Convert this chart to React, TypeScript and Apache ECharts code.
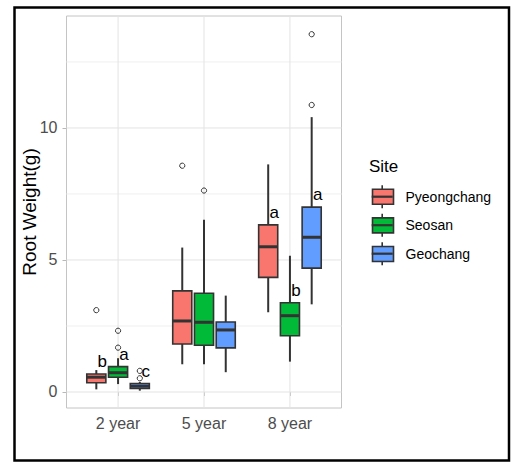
import React, { useEffect, useRef } from "react";
import * as echarts from "echarts";

const years = ["2 year", "5 year", "8 year"];
const sites = ["Pyeongchang", "Seosan", "Geochang"];
const siteColors = ["#F8766D", "#00BA38", "#619CFF"];

// [min, q1, median, q3, max] per year
const pyeongchangBox = [
  [0.1, 0.35, 0.56, 0.68, 0.83],
  [1.05, 1.82, 2.69, 3.83, 5.47],
  [3.02, 4.34, 5.5, 6.33, 8.62],
];
const seosanBox = [
  [0.3, 0.56, 0.73, 0.96, 1.28],
  [1.05, 1.77, 2.64, 3.74, 6.52],
  [1.15, 2.13, 2.89, 3.38, 5.16],
];
const geochangBox = [
  [0.05, 0.13, 0.22, 0.32, 0.38],
  [0.75, 1.67, 2.35, 2.65, 3.65],
  [3.32, 4.69, 5.86, 7.0, 10.41],
];

// [yearIndex, value]
const pyeongchangOutliers = [[0, 3.1], [1, 8.57]];
const seosanOutliers = [[0, 2.32], [0, 1.68], [1, 7.63]];
const geochangOutliers = [[0, 0.52], [0, 0.8], [2, 10.87], [2, 13.55]];

const pyeongchangLetters = ["b", "", "a"];
const seosanLetters = ["a", "", "b"];
const geochangLetters = ["c", "", "a"];

const yTicks = [0, 5, 10];
const yMinorGrid = [2.5, 7.5, 12.5];
const xTicks = [1, 2, 3];

const boxes = [pyeongchangBox, seosanBox, geochangBox];
const outliers = [pyeongchangOutliers, seosanOutliers, geochangOutliers];
const letters = [pyeongchangLetters, seosanLetters, geochangLetters];

const FONT = "'Liberation Sans', Arial, sans-serif";
const DODGE = 0.253;
const BOX_W = 0.222;

export default function App() {
  const ref = useRef<HTMLDivElement>(null);
  useEffect(() => {
    if (!ref.current) return;
    const chart = echarts.init(ref.current, null, { renderer: "svg" });

    const gridData: number[][] = [
      ...yTicks.map((v) => [0, v]),
      ...yMinorGrid.map((v) => [1, v]),
      ...xTicks.map((v) => [2, v]),
    ];

    const gridSeries = {
      type: "custom",
      name: "__grid",
      silent: true,
      z: 1,
      encode: { x: -1, y: -1 },
      data: gridData,
      renderItem: (params: any, api: any) => {
        const kind = api.value(0);
        const v = api.value(1);
        const cs = params.coordSys;
        if (kind === 2) {
          const p = api.coord([v, 0]);
          return {
            type: "line",
            shape: { x1: p[0], y1: cs.y, x2: p[0], y2: cs.y + cs.height },
            style: { stroke: "#e3e3e3", lineWidth: 1 },
          };
        }
        const p = api.coord([1, v]);
        return {
          type: "line",
          shape: { x1: cs.x, y1: p[1], x2: cs.x + cs.width, y2: p[1] },
          style: { stroke: kind === 0 ? "#e3e3e3" : "#efefef", lineWidth: 1 },
        };
      },
    };

    const boxSeries = sites.map((name, s) => ({
      type: "custom",
      name,
      z: 3,
      encode: { x: 0, y: [1, 2, 3, 4, 5] },
      data: boxes[s].map((b, i) => [i, ...b]),
      itemStyle: { color: siteColors[s] },
      renderItem: (params: any, api: any) => {
        const yi = api.value(0);
        const cx = yi + 1 + (s - 1) * DODGE;
        const mn = api.value(1), q1 = api.value(2), md = api.value(3), q3 = api.value(4), mx = api.value(5);
        const pL = api.coord([cx - BOX_W / 2, q1]);
        const pR = api.coord([cx + BOX_W / 2, q3]);
        const pc = api.coord([cx, md]);
        const pMin = api.coord([cx, mn]);
        const pMax = api.coord([cx, mx]);
        const x0 = pL[0], x1 = pR[0];
        const yq1 = pL[1], yq3 = pR[1];
        const children: any[] = [
          { type: "line", shape: { x1: pc[0], y1: pMax[1], x2: pc[0], y2: yq3 }, style: { stroke: "#333333", lineWidth: 2 } },
          { type: "line", shape: { x1: pc[0], y1: yq1, x2: pc[0], y2: pMin[1] }, style: { stroke: "#333333", lineWidth: 2 } },
          { type: "rect", shape: { x: x0, y: yq3, width: x1 - x0, height: yq1 - yq3 }, style: { fill: siteColors[s], stroke: "#333333", lineWidth: 1.6 } },
          { type: "line", shape: { x1: x0, y1: pc[1], x2: x1, y2: pc[1] }, style: { stroke: "#333333", lineWidth: 3 } },
        ];
        const letter = letters[s][yi];
        if (letter) {
          const pt = api.coord([cx + 0.07, q3]);
          children.push({
            type: "text",
            x: pt[0],
            y: pt[1] - 4,
            style: { text: letter, fill: "#000", fontSize: 17, fontFamily: FONT, align: "center", verticalAlign: "bottom" },
          });
        }
        return { type: "group", children };
      },
    }));

    const outlierSeries = sites.map((name, s) => ({
      type: "custom",
      name,
      z: 4,
      encode: { x: 0, y: 1 },
      data: outliers[s],
      renderItem: (params: any, api: any) => {
        const yi = api.value(0);
        const cx = yi + 1 + (s - 1) * DODGE;
        const p = api.coord([cx, api.value(1)]);
        return {
          type: "circle",
          shape: { cx: p[0], cy: p[1], r: 2.6 },
          style: { fill: "none", stroke: "#333333", lineWidth: 1 },
        };
      },
    }));

    const legendTop = 188.5;
    const legendStep = 28.5;
    const legendKeyGraphics: any[] = [];
    sites.forEach((_, i) => {
      const cx = 382.2;
      const cy = 196.7 + i * legendStep;
      legendKeyGraphics.push(
        { type: "line", z: 100, shape: { x1: cx, y1: cy - 11.5, x2: cx, y2: cy - 7.5 }, style: { stroke: "#333333", lineWidth: 1.6 } },
        { type: "line", z: 100, shape: { x1: cx, y1: cy + 7.5, x2: cx, y2: cy + 11.5 }, style: { stroke: "#333333", lineWidth: 1.6 } },
        { type: "line", z: 100, shape: { x1: cx - 10.5, y1: cy, x2: cx + 10.5, y2: cy }, style: { stroke: "#333333", lineWidth: 2.2 } }
      );
    });

    chart.setOption({
      animation: false,
      backgroundColor: "#ffffff",
      textStyle: { fontFamily: FONT },
      grid: {
        left: 66.5,
        top: 16,
        width: 275,
        height: 392,
        show: true,
        borderColor: "#c4c4c4",
        borderWidth: 1,
        backgroundColor: "#ffffff",
        containLabel: false,
      },
      xAxis: {
        type: "value",
        min: 0.4,
        max: 3.6,
        axisLine: { show: false },
        splitLine: { show: false },
        axisTick: { show: true, customValues: xTicks, length: 4, lineStyle: { color: "#b8b8b8" } },
        axisLabel: {
          customValues: xTicks,
          formatter: (v: number) => years[Math.round(v) - 1] ?? "",
          fontSize: 16,
          color: "#4d4d4d",
          margin: 7,
          fontFamily: FONT,
        },
      },
      yAxis: {
        type: "value",
        min: -0.606,
        max: 14.24,
        name: "Root Weight(g)",
        nameLocation: "middle",
        nameRotate: 90,
        nameGap: 28,
        nameMoveOverlap: false,
        nameTextStyle: { fontSize: 19, color: "#000", fontFamily: FONT },
        axisLine: { show: false },
        splitLine: { show: false },
        axisTick: { show: true, customValues: yTicks, length: 4, lineStyle: { color: "#b8b8b8" } },
        axisLabel: {
          customValues: yTicks,
          fontSize: 16,
          color: "#4d4d4d",
          margin: 9,
          fontFamily: FONT,
        },
      },
      legend: {
        orient: "vertical",
        left: 371.7,
        top: legendTop,
        padding: 0,
        icon: "rect",
        itemWidth: 21,
        itemHeight: 15,
        itemGap: 12,
        selectedMode: false,
        textStyle: { fontSize: 14, color: "#000", fontFamily: FONT, lineHeight: 15, height: 15, padding: [0, 0, 0, 7] },
        data: sites.map((name, i) => ({
          name,
          itemStyle: { color: siteColors[i], borderColor: "#333333", borderWidth: 1.6 },
        })),
      },
      graphic: [
        {
          type: "rect",
          z: 100,
          shape: { x: 14.5, y: 7.5, width: 494.5, height: 453 },
          style: { fill: "none", stroke: "#000000", lineWidth: 2.5 },
        },
        {
          type: "text",
          z: 100,
          x: 369,
          y: 166,
          style: { text: "Site", fontSize: 17, fill: "#000", fontFamily: FONT, verticalAlign: "middle", align: "left" },
        },
        ...legendKeyGraphics,
      ],
      series: [gridSeries, ...boxSeries, ...outlierSeries],
    });
    return () => chart.dispose();
  }, []);
  return (
    <div
      ref={ref}
      style={{ position: "absolute", left: 0, top: 0, width: 522, height: 466 }}
    />
  );
}
